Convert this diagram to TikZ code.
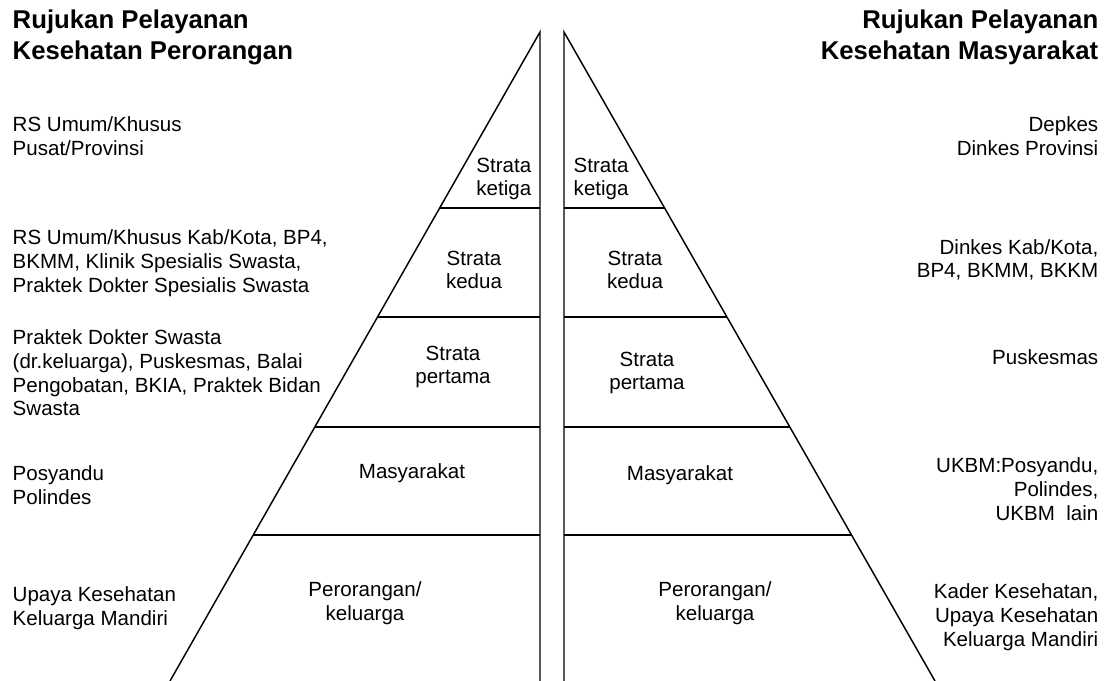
\documentclass[tikz,border=0pt]{standalone}
\usepackage{fontspec}
\setmainfont{Liberation Sans}
\usepackage{tikz}
\usetikzlibrary{calc}
\tikzset{txt/.style={inner sep=0, font=\fontsize{15.4}{17.8}\selectfont}}
\tikzset{lcol/.style={txt, anchor=west, align=left}}
\tikzset{rcol/.style={txt, anchor=east, align=right}}
\tikzset{lvl/.style={txt, align=center}}
\tikzset{head/.style={inner sep=0, font=\fontsize{19.3}{23.2}\selectfont\bfseries}}

\begin{document}
\begin{tikzpicture}[x=0.75pt, y=-0.75pt, line width=1.1pt]
\useasboundingbox (0,0) rectangle (1111,681);
\coordinate (LA) at (540,32);
\coordinate (LB) at (170,681);
\coordinate (LV) at (540,681);
\coordinate (RA) at (564,32);
\coordinate (RB) at (935,681);
\coordinate (RV) at (564,681);
\draw (LB)--(LA)--(LV);
\draw (RB)--(RA)--(RV);
\foreach \t in {0.2712,0.4391,0.6086,0.7750}{
  \draw ($(LA)!\t!(LB)$)--($(LA)!\t!(LV)$);
  \draw ($(RA)!\t!(RV)$)--($(RA)!\t!(RB)$);
}
% headings
\node[head, anchor=west, align=left] (hkp) at (12,37) {Rujukan Pelayanan\\Kesehatan Perorangan};
\node[head, anchor=east, align=right] (hkm) at (1099,37) {Rujukan Pelayanan\\Kesehatan Masyarakat};
% left column
\node[lcol] (l3) at (12,136) {RS Umum/Khusus\\Pusat/Provinsi};
\node[lcol] (l2) at (12,263) {RS Umum/Khusus Kab/Kota, BP4,\\BKMM, Klinik Spesialis Swasta,\\Praktek Dokter Spesialis Swasta};
\node[lcol] (l1) at (12,373) {Praktek Dokter Swasta\\(dr.keluarga), Puskesmas, Balai\\Pengobatan, BKIA, Praktek Bidan\\Swasta};
\node[lcol] (l0) at (12,485) {Posyandu\\Polindes};
\node[lcol] (lk) at (12,608) {Upaya Kesehatan\\Keluarga Mandiri};
% right column
\node[rcol] (r3) at (1099,136) {Depkes\\Dinkes Provinsi};
\node[rcol] (r2) at (1099,260) {Dinkes Kab/Kota,\\BP4, BKMM, BKKM};
\node[rcol] (r1) at (1099,357) {Puskesmas};
\node[rcol] (r0) at (1099,489) {UKBM:Posyandu,\\Polindes,\\UKBM\ \ lain};
\node[rcol] (rk) at (1099,617) {Kader Kesehatan,\\Upaya Kesehatan\\Keluarga Mandiri};
% pyramid levels
\node[lvl, anchor=east, align=right] (ls3) at (532,179) {Strata\\ketiga};
\node[lvl, anchor=west, align=left] (rs3) at (573,179) {Strata\\ketiga};
\node[lvl] (ls2) at (474,270) {Strata\\kedua};
\node[lvl] (rs2) at (635,270) {Strata\\kedua};
\node[lvl] (ls1) at (453,367) {Strata\\pertama};
\node[lvl] (rs1) at (647,373) {Strata\\pertama};
\node[lvl] (ls0) at (412,473) {Masyarakat};
\node[lvl] (rs0) at (680,475) {Masyarakat};
\node[lvl] (lsk) at (365,603) {Perorangan/\\keluarga};
\node[lvl] (rsk) at (715,603) {Perorangan/\\keluarga};
\end{tikzpicture}
\end{document}
